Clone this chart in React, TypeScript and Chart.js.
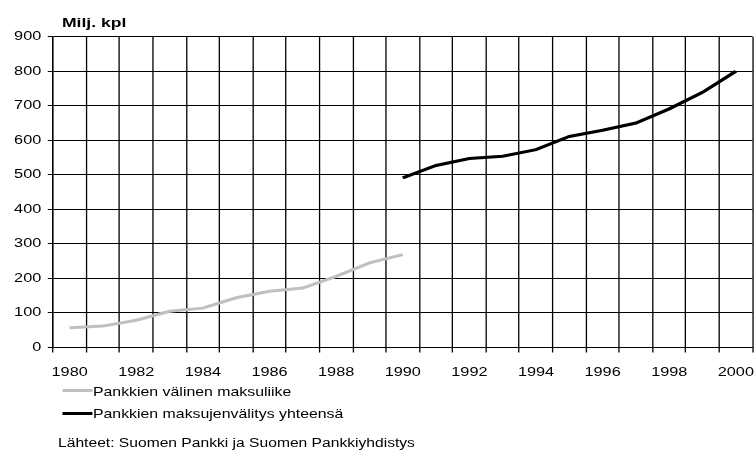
import React, { useEffect, useRef } from 'react';
import { Chart, registerables } from 'chart.js';

Chart.register(...registerables);

const years = ['1980', '1981', '1982', '1983', '1984', '1985', '1986', '1987', '1988', '1989', '1990',
  '1991', '1992', '1993', '1994', '1995', '1996', '1997', '1998', '1999', '2000'];
const interbank = [57, 62, 79, 105, 114, 144, 163, 172, 206, 245, 269,
  null, null, null, null, null, null, null, null, null, null];
const totalPayments = [null, null, null, null, null, null, null, null, null, null, 491,
  527, 547, 554, 573, 611, 629, 650, 691, 739, 800];
const seriesNames = ['Pankkien välinen maksuliike', 'Pankkien maksujenvälitys yhteensä'];
const seriesColors = ['#c0c0c0', '#000000'];
const yTitle = 'Milj. kpl';
const sourceText = 'Lähteet: Suomen Pankki ja Suomen Pankkiyhdistys';

const OUT_W = 755;
const IN_W = 580;
const H = 453;
const SX = OUT_W / IN_W;
const FONT = '"Liberation Sans", Arial, sans-serif';

// The chart is laid out in a narrower space and stretched horizontally when drawn.
const stretchPlugin = {
  id: 'stretch',
  beforeDraw(chart: any) {
    chart.ctx.setTransform(chart.canvas.width / chart.width, 0, 0, 1, 0, 0);
  },
};

export default function App() {
  const ref = useRef<HTMLCanvasElement | null>(null);
  useEffect(() => {
    const canvas = ref.current;
    if (!canvas) return;
    canvas.width = IN_W;
    canvas.height = H;
    const chart = new Chart(canvas, {
      type: 'line',
      data: {
        labels: years,
        datasets: [
          { label: seriesNames[0], data: interbank, borderColor: seriesColors[0], backgroundColor: seriesColors[0], borderWidth: 3, pointRadius: 0, tension: 0, spanGaps: false },
          { label: seriesNames[1], data: totalPayments, borderColor: seriesColors[1], backgroundColor: seriesColors[1], borderWidth: 3, pointRadius: 0, tension: 0, spanGaps: false },
        ],
      },
      plugins: [stretchPlugin],
      options: {
        responsive: false,
        animation: false,
        devicePixelRatio: 1,
        layout: { padding: { top: 36.7, right: 1.9, left: 0, bottom: 0 } },
        plugins: { legend: { display: false }, tooltip: { enabled: false }, title: { display: false } },
        scales: {
          x: {
            type: 'category',
            offset: true,
            grid: { display: true, drawOnChartArea: true, offset: true, color: '#000', lineWidth: 1, tickLength: 5, drawTicks: true, tickColor: '#000' },
            border: { display: true, color: '#000', width: 1 },
            ticks: {
              autoSkip: false, maxRotation: 0, minRotation: 0, padding: 0, color: '#000',
              font: { family: FONT, size: 12.5, lineHeight: 3.2 },
              callback: (_v: any, i: number) => (i % 2 === 0 ? years[i] : ''),
            },
            afterFit: (s: any) => { s.height = H - 347.5; },
          },
          y: {
            min: 0, max: 900,
            ticks: { stepSize: 100, padding: 5, color: '#000', font: { family: FONT, size: 12.5 } },
            grid: { display: true, drawOnChartArea: true, color: '#000', lineWidth: 1, tickLength: 4, tickColor: '#000' },
            border: { display: true, color: '#000', width: 1 },
            afterFit: (s: any) => { s.width = 40.7; },
          },
        },
      },
    });
    canvas.width = OUT_W;
    canvas.height = H;
    canvas.style.width = OUT_W + 'px';
    canvas.style.height = H + 'px';
    chart.draw();
    return () => chart.destroy();
  }, []);

  const txt = (fs: number, capCenter: number, left: number, bold = false): React.CSSProperties => ({
    position: 'absolute', left, top: capCenter - 0.49 * fs, fontFamily: FONT, fontSize: fs,
    fontWeight: bold ? 'bold' : 'normal', lineHeight: 1, whiteSpace: 'nowrap', color: '#000',
  });
  const swatch = (color: string, y: number): React.CSSProperties => ({
    position: 'absolute', left: 47.6, top: y - 1.5, width: 23.2, height: 3, background: color,
  });

  return (
    <div style={{ position: 'absolute', left: 0, top: 0, width: OUT_W, height: H, overflow: 'hidden', background: '#fff' }}>
      <canvas ref={ref} width={IN_W} height={H} style={{ display: 'block', position: 'absolute', left: 0, top: 0 }} />
      <div style={{ position: 'absolute', left: 0, top: 0, width: IN_W, height: H, transform: `scaleX(${SX})`, transformOrigin: '0 0', pointerEvents: 'none' }}>
        <div style={txt(13.5, 23, 47.6, true)}>{yTitle}</div>
        <div style={swatch(seriesColors[0], 390.7)} />
        <div style={txt(12.2, 391.5, 71.4)}>{seriesNames[0]}</div>
        <div style={swatch(seriesColors[1], 413)} />
        <div style={txt(12.2, 414, 71.4)}>{seriesNames[1]}</div>
        <div style={txt(12, 443, 44.6)}>{sourceText}</div>
      </div>
    </div>
  );
}
